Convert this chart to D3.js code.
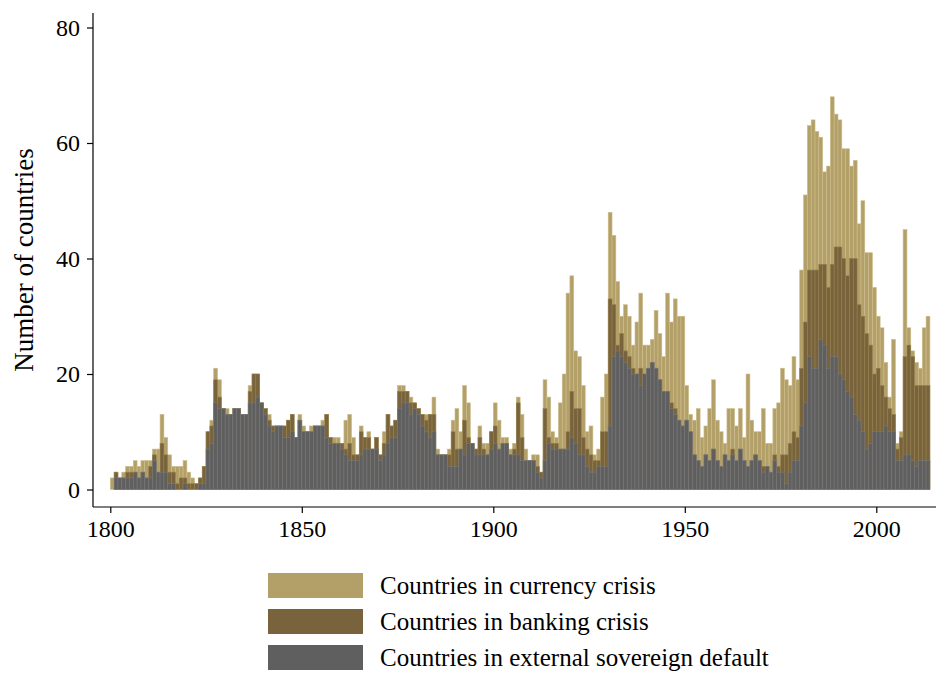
<!DOCTYPE html>
<html>
<head>
	<meta charset="utf-8">
	<script src="https://d3js.org/d3.v7.min.js"></script>
	<style>
		body { margin: 0; background: #fff; }
		text { font-family: "Liberation Serif", "Times New Roman", serif; fill: #000; }
	</style>
</head>
<body>
	<div id="chart"></div>
	<script>

	// years covered: 1800 .. 2013
	const firstYear = 1800

	// number of countries in currency crisis
	const currency = [
		2,3,2,3,4,4,5,4,5,5, 5,7,7,13,9,6,4,4,4,5,
		3,2,1,2,4,10,12,21,19,14, 14,13,14,14,13,13,18,20,20,15,
		14,13,11,11,11,11,12,13,9,13, 11,10,11,11,11,12,13,9,9,9,
		8,12,13,9,6,11,9,10,7,9, 6,10,13,11,12,18,18,17,16,15,
		14,13,13,13,16,7,6,6,7,12, 14,10,18,15,8,7,11,8,8,10,
		15,12,9,9,7,8,16,13,7,5, 6,6,3,19,16,10,9,15,20,34,
		37,24,23,18,10,11,6,7,16,20, 48,44,36,30,32,30,25,29,34,25,
		25,26,31,27,23,34,29,33,30,30, 18,13,12,14,9,11,14,19,12,10,
		8,14,14,11,14,9,20,12,10,10, 14,8,8,14,15,21,19,18,23,19,
		38,51,63,64,62,61,55,56,68,65, 64,59,59,56,57,46,50,41,41,35,
		30,28,22,16,26,8,10,45,28,24, 22,21,28,30
	]

	// number of countries in banking crisis
	const banking = [
		0,3,2,2,3,3,3,2,3,2, 4,6,3,8,6,3,3,1,2,2,
		1,1,1,2,4,10,11,19,16,14, 13,13,14,14,13,13,17,20,20,15,
		14,12,11,11,11,11,12,13,9,12, 10,10,10,11,11,11,13,9,8,8,
		8,7,8,6,6,10,9,9,7,9, 6,8,13,11,12,17,17,17,15,15,
		14,13,12,13,13,6,6,6,6,10, 7,7,12,9,8,7,9,7,6,10,
		11,7,8,8,6,7,15,9,5,5, 5,4,3,14,9,8,8,7,7,10,
		17,14,14,9,7,6,5,5,10,10, 33,32,25,27,24,23,21,20,21,20,
		21,22,21,19,17,17,15,14,12,11, 12,10,6,5,4,6,5,7,5,4,
		6,5,7,5,7,5,4,5,6,5, 4,4,3,6,4,6,6,8,10,9,
		21,29,38,38,38,39,39,35,39,42, 42,40,37,40,40,32,30,27,25,20,
		21,18,16,14,13,7,9,23,25,23, 18,18,18,18
	]

	// number of countries in external sovereign default
	const defaults = [
		0,2,2,2,2,2,3,2,3,2, 2,5,3,3,3,1,1,0,0,1,
		0,0,0,1,1,7,8,15,14,14, 13,13,14,14,13,13,15,15,16,15,
		13,11,10,11,11,9,9,10,9,12, 10,10,10,11,11,11,9,8,8,8,
		7,6,5,5,5,6,7,7,7,7, 5,6,8,9,9,14,15,15,13,14,
		13,11,10,9,10,6,6,6,4,4, 4,7,6,8,8,6,6,6,6,7,
		8,7,8,8,6,6,6,5,5,5, 5,3,2,5,8,7,7,7,7,7,
		9,8,6,6,4,3,3,4,4,4, 11,23,24,23,22,21,20,20,18,20,
		21,22,21,19,17,17,14,13,12,11, 12,10,6,5,4,6,5,7,5,4,
		6,5,6,5,7,5,4,5,6,5, 3,4,3,5,3,3,1,3,5,5,
		11,15,23,21,21,26,25,21,23,23, 20,19,17,16,13,12,10,7,8,10,
		10,10,11,10,10,5,5,6,6,5, 4,5,5,5
	]

	const yTicks = [0, 20, 40, 60, 80]
	const xTicks = [1800, 1850, 1900, 1950, 2000]

	const seriesNames = [
		"Countries in currency crisis",
		"Countries in banking crisis",
		"Countries in external sovereign default"
	]
	const fills = ["#b3a068", "#78633c", "#5f5f5f"]
	const edges = ["#cdbd8c", "#95804f", "#7a7a7a"]

	const width = 946
	const height = 675

	const svg = d3.select("#chart")
	  .append("svg")
	    .attr("width", width)
	    .attr("height", height)

	const x = d3.scaleLinear().domain([1800, 2000]).range([110.3, 876.3])
	const y = d3.scaleLinear().domain([0, 80]).range([489.5, 27.5])

	const years = currency.map((d, i) => firstYear + i)
	const layers = [currency, banking, defaults]

	// bars: currency at the back, default in front
	layers.forEach((vals, k) => {
		svg.append("g")
		  .selectAll("rect")
		  .data(years)
		  .join("rect")
		    .attr("x", d => x(d))
		    .attr("width", d => x(d + 1) - x(d))
		    .attr("y", (d, i) => y(vals[i]))
		    .attr("height", (d, i) => y(0) - y(vals[i]))
		    .attr("fill", fills[k])
		    .attr("stroke", edges[k])
		    .attr("stroke-width", 0.6)
	})

	// axis lines
	const axisX = 93, axisY = 507
	svg.append("line")
	    .attr("x1", axisX).attr("x2", axisX)
	    .attr("y1", 13).attr("y2", axisY)
	    .attr("stroke", "#000").attr("stroke-width", 1.2)
	svg.append("line")
	    .attr("x1", axisX).attr("x2", 936)
	    .attr("y1", axisY).attr("y2", axisY)
	    .attr("stroke", "#000").attr("stroke-width", 1.2)

	const yAxis = svg.append("g")
	    .attr("transform", `translate(${axisX},0)`)
	    .call(d3.axisLeft(y).tickValues(yTicks).tickSize(6).tickPadding(7))
	yAxis.select(".domain").remove()

	const xAxis = svg.append("g")
	    .attr("transform", `translate(0,${axisY})`)
	    .call(d3.axisBottom(x).tickValues(xTicks).tickFormat(d3.format("d")).tickSize(6).tickPadding(7))
	xAxis.select(".domain").remove()

	svg.selectAll(".tick line").attr("stroke", "#000").attr("stroke-width", 1.2)
	svg.selectAll(".tick text")
	    .style("font-family", "'Liberation Serif', serif")
	    .style("font-size", "24px")

	// y label
	svg.append("text")
	    .attr("transform", "translate(33,260) rotate(-90)")
	    .attr("text-anchor", "middle")
	    .style("font-size", "27px")
	    .text("Number of countries")

	// legend
	const legend = svg.append("g")
	seriesNames.forEach((name, k) => {
		const ly = 573 + k * 36
		legend.append("rect")
		    .attr("x", 268).attr("y", ly)
		    .attr("width", 95).attr("height", 25)
		    .attr("fill", fills[k])
		legend.append("text")
		    .attr("x", 380).attr("y", ly + 21)
		    .style("font-size", "25px")
		    .text(name)
	})

	</script>
</body>
</html>
